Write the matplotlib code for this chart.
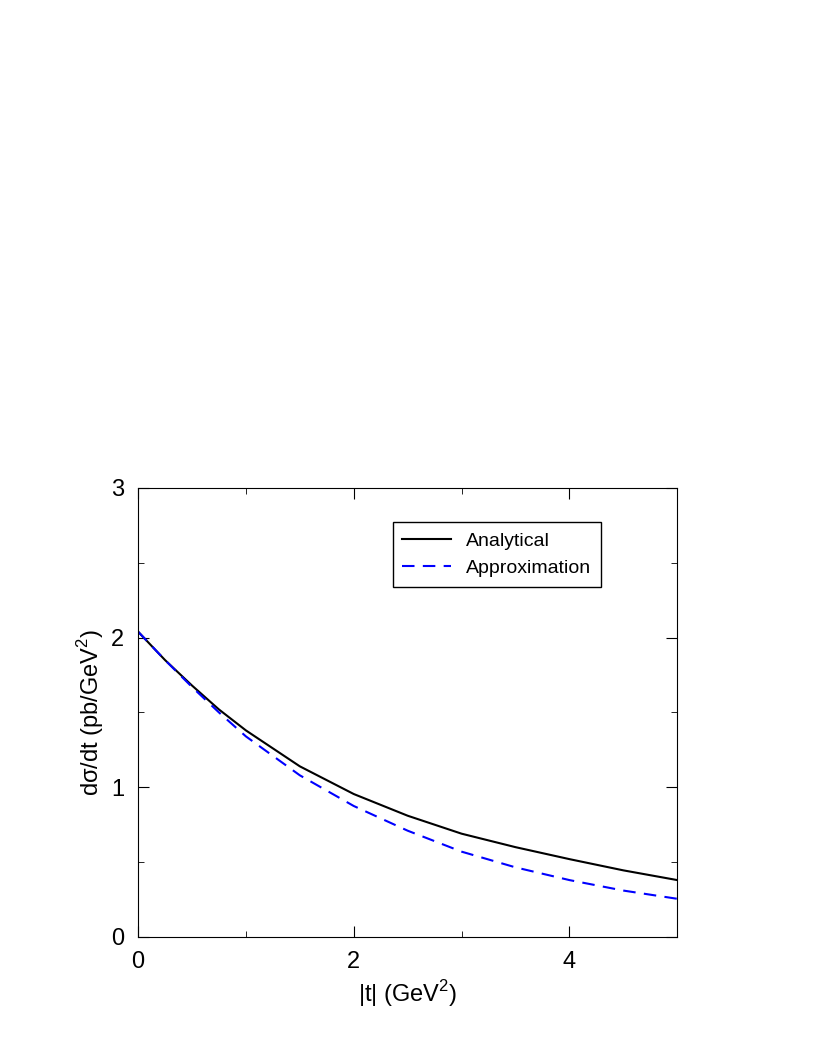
import matplotlib
matplotlib.use("Agg")
import matplotlib.pyplot as plt
from matplotlib.ticker import MultipleLocator

t = [0, 0.25, 0.5, 0.75, 1, 1.5, 2, 2.5, 3, 3.5, 4, 4.5, 5]
analytical = [2.04, 1.85, 1.68, 1.52, 1.38, 1.14, 0.955, 0.81, 0.69, 0.60, 0.52, 0.445, 0.38]
approx = [2.04, 1.85, 1.67, 1.50, 1.34, 1.08, 0.875, 0.71, 0.57, 0.465, 0.38, 0.31, 0.255]

plt.rcParams['font.family'] = ['Liberation Sans', 'DejaVu Sans']
plt.rcParams['mathtext.fontset'] = 'custom'
plt.rcParams['mathtext.rm'] = 'Liberation Sans'
fig = plt.figure(figsize=(8.17, 10.58), dpi=100)
ax = fig.add_axes([0.169, 0.1144, 0.66, 0.4244])
ax.plot(t, analytical, color='black', lw=1.5, label='Analytical')
ax.plot(t, approx, color='blue', lw=1.5, ls=(0, (6, 4)), label='Approximation')
ax.set_xlim(0, 5)
ax.set_ylim(0, 3)
ax.xaxis.set_major_locator(MultipleLocator(2))
ax.xaxis.set_minor_locator(MultipleLocator(1))
ax.yaxis.set_major_locator(MultipleLocator(1))
ax.yaxis.set_minor_locator(MultipleLocator(0.5))
ax.tick_params(which='both', direction='in', top=True, right=True, labelsize=17)
ax.tick_params(which='major', length=8, pad=10)
ax.tick_params(which='minor', length=4)
ax.set_xlabel('|t| (GeV$^\\mathregular{2}$)', fontsize=17)
ax.set_ylabel('dσ/dt (pb/GeV$^\\mathregular{2}$)', fontsize=17)
ax.legend(loc='upper right', bbox_to_anchor=(0.877, 0.945), fontsize=14, fancybox=False,
          edgecolor='black', framealpha=1, handlelength=2.5, borderpad=0.5)
fig.savefig('out.png')
